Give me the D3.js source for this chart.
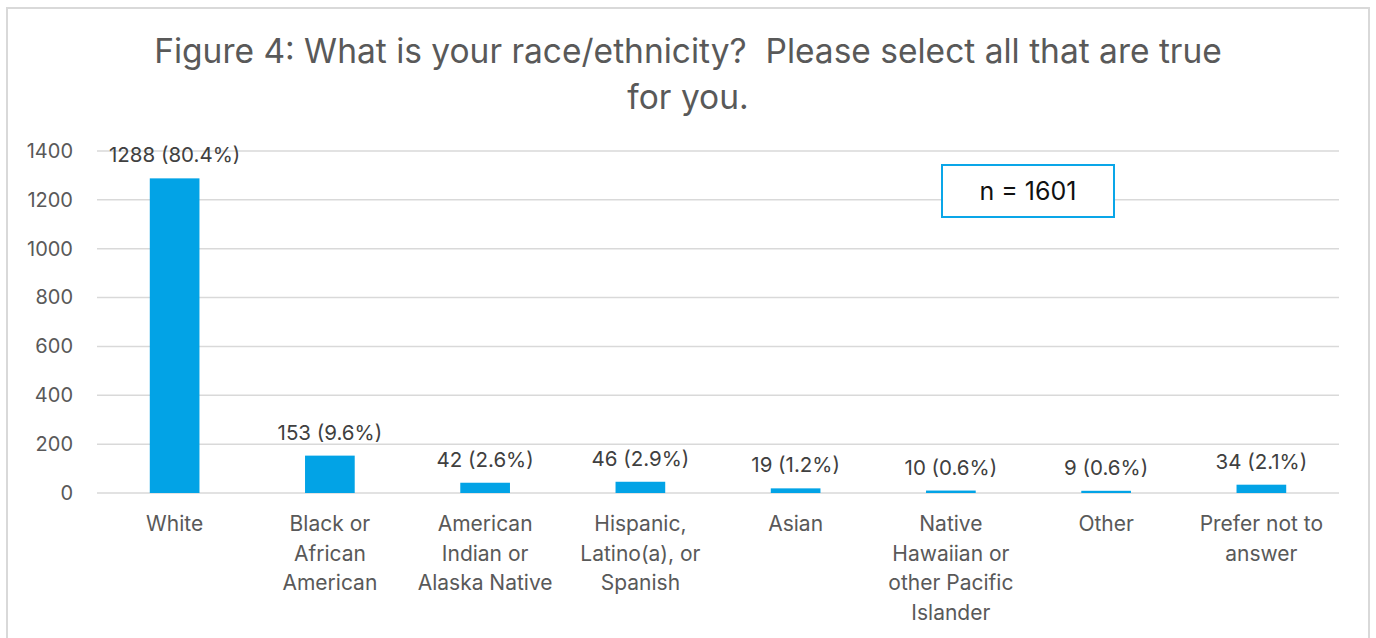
<!doctype html>
<html>
<head>
<meta charset="UTF-8" />
<script src="https://d3js.org/d3.v7.min.js"></script>
<style>
  body { margin: 0; background: #fff; }
  svg text { font-family: Inter, "Open Sans", sans-serif; }
</style>
</head>
<body>
<svg id="chart" width="1376" height="638"></svg>
<script>
(function () {
  "use strict";

  // chart data
  const categories = [
    ["White"],
    ["Black or", "African", "American"],
    ["American", "Indian or", "Alaska Native"],
    ["Hispanic,", "Latino(a), or", "Spanish"],
    ["Asian"],
    ["Native", "Hawaiian or", "other Pacific", "Islander"],
    ["Other"],
    ["Prefer not to", "answer"]
  ];
  const counts = [1288, 153, 42, 46, 19, 10, 9, 34];
  const percents = ["80.4%", "9.6%", "2.6%", "2.9%", "1.2%", "0.6%", "0.6%", "2.1%"];
  const yTicks = [0, 200, 400, 600, 800, 1000, 1200, 1400];
  const titleLines = ["Figure 4: What is your race/ethnicity?  Please select all that are true", "for you."];
  const sampleNote = "n = 1601";

  const svg = d3.select("#chart");
  const grey = "#595959";
  const margin = { top: 151, left: 97, right: 37, bottom: 145 };
  const width = 1376 - margin.left - margin.right;
  const height = 638 - margin.top - margin.bottom;

  // outer frame (open at bottom, as in the screenshot)
  svg.append("path")
    .attr("d", "M7,640 V8 H1369 V640")
    .attr("fill", "none")
    .attr("stroke", "#d9d9d9")
    .attr("stroke-width", 2);

  // title (keep the double space after the question mark)
  svg.append("text")
    .attr("x", 688)
    .attr("y", 63)
    .attr("text-anchor", "middle")
    .attr("fill", grey)
    .style("font-size", "33.5px")
    .style("white-space", "pre")
    .selectAll("tspan")
    .data(titleLines)
    .enter().append("tspan")
    .attr("x", 688)
    .attr("dy", function (d, i) { return i === 0 ? 0 : 46; })
    .text(function (d) { return d; });

  const g = svg.append("g").attr("transform", "translate(" + margin.left + "," + margin.top + ")");

  const x = d3.scaleBand().domain(d3.range(categories.length)).range([0, width]).paddingInner(0.68).paddingOuter(0.34);
  const y = d3.scaleLinear().domain([0, 1400]).range([height, 0]);

  // gridlines
  g.selectAll("line.grid")
    .data(yTicks)
    .enter().append("line")
    .attr("class", "grid")
    .attr("x1", 0)
    .attr("x2", width)
    .attr("y1", function (d) { return y(d); })
    .attr("y2", function (d) { return y(d); })
    .attr("stroke", "#d9d9d9")
    .attr("stroke-width", 1.5);

  // y axis labels
  const yAxis = d3.axisLeft(y).tickValues(yTicks).tickFormat(d3.format("d")).tickSize(0).tickPadding(24);
  const ya = g.append("g").call(yAxis);
  ya.select(".domain").remove();
  ya.selectAll("text")
    .attr("fill", grey)
    .style("font-size", "20px")
    .style("font-family", "Inter, 'Open Sans', sans-serif");

  // bars
  g.selectAll("rect.bar")
    .data(counts)
    .enter().append("rect")
    .attr("class", "bar")
    .attr("x", function (d, i) { return x(i); })
    .attr("width", x.bandwidth())
    .attr("y", function (d) { return y(d); })
    .attr("height", function (d) { return height - y(d); })
    .attr("fill", "#02a3e6");

  // data labels
  g.selectAll("text.value")
    .data(counts)
    .enter().append("text")
    .attr("class", "value")
    .attr("x", function (d, i) { return x(i) + x.bandwidth() / 2; })
    .attr("y", function (d) { return y(d) - 16; })
    .attr("text-anchor", "middle")
    .attr("fill", "#404040")
    .style("font-size", "20.5px")
    .text(function (d, i) { return d + " (" + percents[i] + ")"; });

  // category labels
  const cat = g.selectAll("text.cat")
    .data(categories)
    .enter().append("text")
    .attr("class", "cat")
    .attr("text-anchor", "middle")
    .attr("fill", grey)
    .style("font-size", "21px")
    .attr("transform", function (d, i) { return "translate(" + (x(i) + x.bandwidth() / 2) + "," + (height + 38) + ")"; });
  cat.selectAll("tspan")
    .data(function (d) { return d; })
    .enter().append("tspan")
    .attr("x", 0)
    .attr("dy", function (d, i) { return i === 0 ? 0 : 29.5; })
    .text(function (d) { return d; });

  // sample size box
  svg.append("rect")
    .attr("x", 942)
    .attr("y", 165)
    .attr("width", 172)
    .attr("height", 52)
    .attr("fill", "#fff")
    .attr("stroke", "#0aa6e8")
    .attr("stroke-width", 2);
  svg.append("text")
    .attr("x", 1028)
    .attr("y", 200)
    .attr("text-anchor", "middle")
    .attr("fill", "#111")
    .style("font-size", "25px")
    .text(sampleNote);
})();
</script>
</body>
</html>
